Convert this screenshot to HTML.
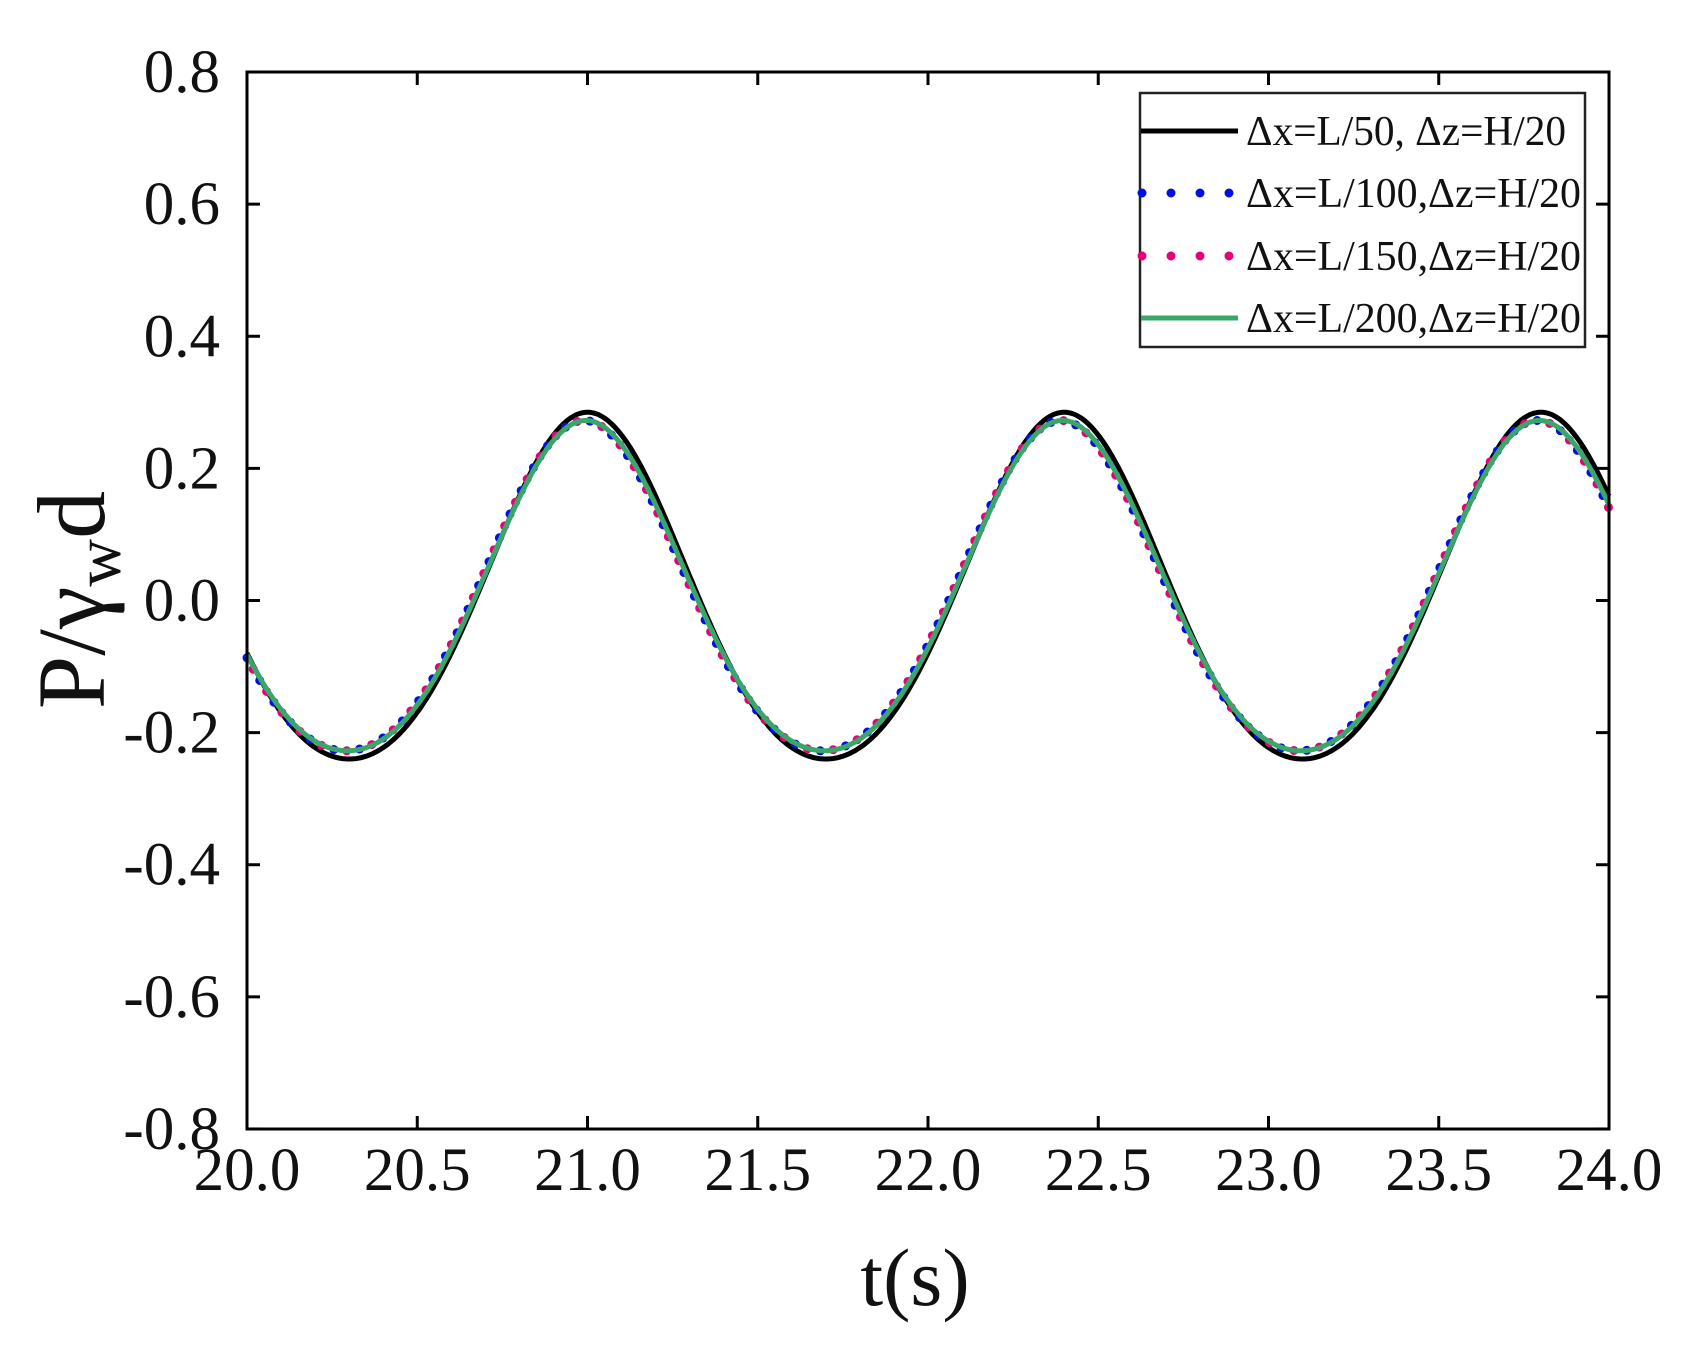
<!DOCTYPE html>
<html><head><meta charset="utf-8"><style>
html,body{margin:0;padding:0;background:#fff;}
svg{display:block;font-family:"Liberation Serif",serif;}
</style></head><body>
<svg id="s" width="1690" height="1353" viewBox="0 0 1690 1353" xmlns="http://www.w3.org/2000/svg">
<g id="curves"></g>
<rect x="247" y="72" width="1362" height="1057" fill="none" stroke="#000" stroke-width="3"/>
<g id="ticks" stroke="#000" stroke-width="3"></g>
<g id="labels" font-size="61" fill="#111"></g>
<text x="915" y="1305" font-size="82" text-anchor="middle" fill="#111">t(s)</text>
<text transform="translate(104,600) rotate(-90)" font-size="96" text-anchor="middle" fill="#111">P/γ<tspan font-size="66" dy="16">w</tspan><tspan dy="-16">d</tspan></text>
<rect x="1140" y="93" width="445" height="254" fill="#fff" stroke="#222" stroke-width="2.5"/>
<line x1="1141" y1="131" x2="1238" y2="131" stroke="#000" stroke-width="5"/>
<line x1="1142" y1="193" x2="1238" y2="193" stroke="#0010e0" stroke-width="9" stroke-linecap="round" stroke-dasharray="0 29"/>
<line x1="1142" y1="256" x2="1238" y2="256" stroke="#e6007a" stroke-width="9" stroke-linecap="round" stroke-dasharray="0 29"/>
<line x1="1141" y1="318" x2="1238" y2="318" stroke="#3aa66a" stroke-width="5"/>
<g font-size="42" fill="#111">
<text x="1246" y="145" textLength="320" lengthAdjust="spacingAndGlyphs">Δx=L/50, Δz=H/20</text>
<text x="1246" y="207" textLength="335" lengthAdjust="spacingAndGlyphs">Δx=L/100,Δz=H/20</text>
<text x="1246" y="270" textLength="335" lengthAdjust="spacingAndGlyphs">Δx=L/150,Δz=H/20</text>
<text x="1246" y="332" textLength="335" lengthAdjust="spacingAndGlyphs">Δx=L/200,Δz=H/20</text>
</g>
</svg>
<script>
var NS="http://www.w3.org/2000/svg";
function X(t){return 247+(t-20)*340.5;}
function Y(v){return 600.5-v*660.6;}
var tk=document.getElementById('ticks'),lb=document.getElementById('labels');
function el(p,tag,a,txt){var e=document.createElementNS(NS,tag);for(var k in a)e.setAttribute(k,a[k]);if(txt)e.textContent=txt;p.appendChild(e);return e;}
for(var i=0;i<=8;i++){var t=20+i*0.5,x=X(t);
el(tk,'line',{x1:x,y1:1129,x2:x,y2:1116});el(tk,'line',{x1:x,y1:72,x2:x,y2:85});
el(lb,'text',{x:x,y:1190,'text-anchor':'middle'},t.toFixed(1));}
for(var i=0;i<=8;i++){var v=-0.8+i*0.2,y=Y(v);
el(tk,'line',{x1:247,y1:y,x2:260,y2:y});el(tk,'line',{x1:1609,y1:y,x2:1596,y2:y});
var s=Math.abs(v)<1e-9?"0.0":v.toFixed(1);
el(lb,'text',{x:220,y:y+20,'text-anchor':'end'},s);}
function f(t,a,m,ph){var w=2*Math.PI/1.4,p=w*(t-21-ph);return m+a*Math.cos(p)+0.023*Math.cos(2*p)-0.02;}
function path(a,m,ph){var d="";for(var t=20;t<=24.0001;t+=0.005){d+=(d?"L":"M")+X(t).toFixed(1)+","+Y(f(t,a,m,ph)).toFixed(1);}return d;}
var g=document.getElementById('curves');
el(g,'path',{d:path(0.2625,0.0195,0),fill:'none',stroke:'#000','stroke-width':5});
el(g,'path',{d:path(0.25,0.0195,-0.01),fill:'none',stroke:'#0010e0','stroke-width':9,'stroke-linecap':'round','stroke-dasharray':'0 26'});
el(g,'path',{d:path(0.25,0.0195,-0.01),fill:'none',stroke:'#e6007a','stroke-width':9,'stroke-linecap':'round','stroke-dasharray':'0 26','stroke-dashoffset':'13'});
el(g,'path',{d:path(0.25,0.0195,-0.005),fill:'none',stroke:'#3aa66a','stroke-width':5});
</script>
</body></html>
